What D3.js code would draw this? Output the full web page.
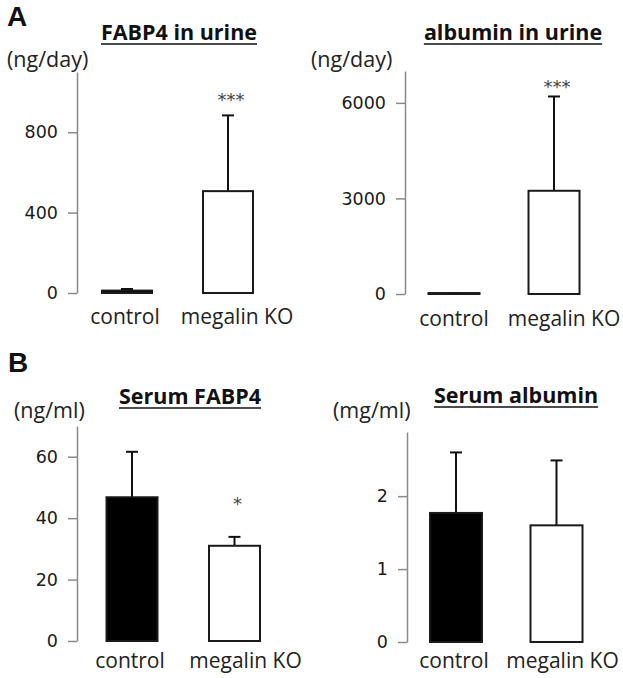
<!DOCTYPE html>
<html><head><meta charset="utf-8">
<script src="https://cdn.jsdelivr.net/npm/d3@7"></script>
<style>
html,body{margin:0;padding:0;background:#fff;}
svg{display:block;}
</style></head>
<body>
<svg id="chart" width="623" height="678"></svg>
<script>
// ---------- data ----------
const categories = ["control", "megalin KO"];

const fabp4UrineMean = [12, 507];
const fabp4UrineSD = [8, 377];
const albuminUrineMean = [30, 3240];
const albuminUrineSD = [0, 2960];
const serumFabp4Mean = [46.8, 31.0];
const serumFabp4SD = [14.8, 2.9];
const serumAlbuminMean = [1.77, 1.60];
const serumAlbuminSD = [0.83, 0.89];

const fabp4UrineTicks = [0, 400, 800];
const albuminUrineTicks = [0, 3000, 6000];
const serumFabp4Ticks = [0, 20, 40, 60];
const serumAlbuminTicks = [0, 1, 2];

const fabp4UrineStars = ["", "***"];
const albuminUrineStars = ["", "***"];
const serumFabp4Stars = ["", "*"];
const serumAlbuminStars = ["", ""];

const panelTitles = ["FABP4 in urine", "albumin in urine", "Serum FABP4", "Serum albumin"];
const panelUnits = ["(ng/day)", "(ng/day)", "(ng/ml)", "(mg/ml)"];
const panelLetters = ["A", "B"];
const yMax = [1100, 7000, 70, 2.88];

// ---------- layout ----------
const panels = [
  {mean: fabp4UrineMean, sd: fabp4UrineSD, ticks: fabp4UrineTicks, stars: fabp4UrineStars,
   axisX: 77, yR: [293, 72], centers: [127, 228], bw: 50, titleX: 179, titleY: 40,
   unitX: 7, unitY: 67, labelY: 324, starY: 106, labelShift: [-2, 9]},
  {mean: albuminUrineMean, sd: albuminUrineSD, ticks: albuminUrineTicks, stars: albuminUrineStars,
   axisX: 405, yR: [294, 71], centers: [454, 554], bw: 51, titleX: 513, titleY: 40,
   unitX: 311, unitY: 67, labelY: 326, starY: 93, labelShift: [0, 10]},
  {mean: serumFabp4Mean, sd: serumFabp4SD, ticks: serumFabp4Ticks, stars: serumFabp4Stars,
   axisX: 77, yR: [641, 426], centers: [132, 234.5], bw: 51, titleX: 190, titleY: 404,
   unitX: 14, unitY: 418, labelY: 668, starY: 510, labelShift: [-2, 11]},
  {mean: serumAlbuminMean, sd: serumAlbuminSD, ticks: serumAlbuminTicks, stars: serumAlbuminStars,
   axisX: 407, yR: [642, 432], centers: [456, 556.5], bw: 52, titleX: 516, titleY: 403,
   unitX: 333, unitY: 418, labelY: 668, starY: 0, labelShift: [-2, 6]}
];
const letterPos = [[7, 26], [8, 372]];

const svg = d3.select("#chart");
const textFont = "'Open Sans', sans-serif";
const tickFont = "'DejaVu Sans', sans-serif";

panelLetters.forEach((L, i) => {
  svg.append("text").attr("x", letterPos[i][0]).attr("y", letterPos[i][1])
    .attr("font-family", "'Liberation Sans', Arial, sans-serif").attr("font-weight", 700)
    .attr("font-size", 28).attr("fill", "#111").text(L);
});

panels.forEach((p, pi) => {
  const g = svg.append("g");
  const y = d3.scaleLinear().domain([0, yMax[pi]]).range(p.yR);
  const x = d3.scalePoint().domain(categories).range(p.centers);

  // axis
  const ax = g.append("g").attr("transform", `translate(${p.axisX},0)`)
    .call(d3.axisLeft(y).tickValues(p.ticks).tickSize(9).tickSizeOuter(0).tickPadding(10)
      .tickFormat(d3.format("d")));
  ax.select(".domain").attr("stroke", "#8a8a8a").attr("stroke-width", 1.5);
  ax.selectAll(".tick line").attr("stroke", "#8a8a8a").attr("stroke-width", 1.5);
  ax.selectAll(".tick text").attr("font-family", tickFont).attr("font-size", 17.5)
    .attr("fill", "#1a1a1a");

  const data = categories.map((c, i) => ({c, i, m: p.mean[i], s: p.sd[i], star: p.stars[i]}));

  // error bars (drawn first, bar covers lower part)
  data.forEach(d => {
    const cx = x(d.c);
    g.append("line").attr("x1", cx).attr("x2", cx)
      .attr("y1", y(d.m)).attr("y2", y(d.m + d.s))
      .attr("stroke", "#111").attr("stroke-width", 2);
    g.append("line").attr("x1", cx - 6).attr("x2", cx + 6)
      .attr("y1", y(d.m + d.s)).attr("y2", y(d.m + d.s))
      .attr("stroke", "#111").attr("stroke-width", 2);
  });

  // bars
  g.selectAll("rect.bar").data(data).enter().append("rect")
    .attr("class", "bar")
    .attr("x", d => x(d.c) - p.bw / 2)
    .attr("width", p.bw)
    .attr("y", d => y(d.m))
    .attr("height", d => y(0) - y(d.m))
    .attr("fill", d => d.i === 0 ? "#000" : "#fff")
    .attr("stroke", "#1a1a1a").attr("stroke-width", 2);

  // stars
  data.filter(d => d.star).forEach(d => {
    g.append("text").attr("x", x(d.c) + 3).attr("y", p.starY)
      .attr("text-anchor", "middle").attr("font-family", tickFont).attr("font-size", 18)
      .attr("fill", "#444").text(d.star);
  });

  // category labels
  data.forEach(d => {
    g.append("text").attr("x", x(d.c) + p.labelShift[d.i]).attr("y", p.labelY)
      .attr("text-anchor", "middle").attr("font-family", textFont).attr("font-size", 21)
      .attr("fill", "#222").text(d.c);
  });

  // title with underline
  const t = g.append("text").attr("x", p.titleX).attr("y", p.titleY)
    .attr("text-anchor", "middle").attr("font-family", textFont).attr("font-weight", 700)
    .attr("font-size", 21.5).attr("fill", "#111").text(panelTitles[pi]);
  const w = t.node().getComputedTextLength();
  g.append("line").attr("x1", p.titleX - w / 2).attr("x2", p.titleX + w / 2)
    .attr("y1", p.titleY + 4).attr("y2", p.titleY + 4)
    .attr("stroke", "#111").attr("stroke-width", 1.6);

  // unit
  g.append("text").attr("x", p.unitX).attr("y", p.unitY)
    .attr("font-family", textFont).attr("font-size", 21.5).attr("fill", "#222")
    .text(panelUnits[pi]);
});
</script>
</body></html>
